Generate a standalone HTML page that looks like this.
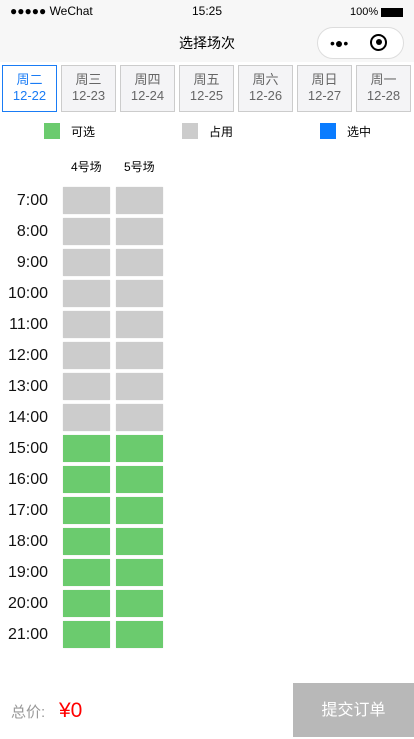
<!DOCTYPE html>
<html><head><meta charset="utf-8"><style>
*{margin:0;padding:0;box-sizing:border-box}
body{width:414px;height:737px;overflow:hidden;background:#fff;font-family:"Liberation Sans","Noto Sans CJK SC",sans-serif;position:relative;color:#000}
.abs{position:absolute}
.tab{position:absolute;top:65px;width:55px;height:47px;border:1px solid #ccc;background:#f4f4f6;text-align:center;color:#666;font-size:13px;line-height:16px;padding-top:6px}
.tab.sel{border-color:#1a7cf5;background:#fff;color:#1a7cf5}
.cell{position:absolute;width:47px;height:27px;box-shadow:0 0 1px #ddd}
.time{position:absolute;left:0;width:48px;text-align:right;font-size:16px;color:#111}
</style></head><body>
<div class="abs" style="left:0;top:0;width:414px;height:62px;background:#f7f7f7"></div>
<div class="abs" style="left:10px;top:4px;font-size:12px">●●●●● WeChat</div>
<div class="abs" style="left:192px;top:4px;font-size:12px">15:25</div>
<div class="abs" style="left:350px;top:6px;font-size:11px">100% <span style="display:inline-block;width:22px;height:9px;border:1px solid #000;background:#000;vertical-align:middle"></span></div>
<div class="abs" style="left:0;width:414px;top:33px;text-align:center;font-size:14px">选择场次</div>
<div class="abs" style="left:317px;top:27px;width:87px;height:32px;border:1px solid #ddd;border-radius:16px;background:#fff;font-size:14px;line-height:30px;padding-left:12px">•●• <span style="margin-left:18px;display:inline-block;width:17px;height:17px;border:2px solid #000;border-radius:50%;vertical-align:middle;position:relative;top:-2px"><span style="position:absolute;left:3.5px;top:3.5px;width:6px;height:6px;background:#000;border-radius:50%"></span></span></div>
<div id="tabs"></div>
<div class="abs" style="left:44px;top:123px;width:16px;height:16px;background:#6bcb6e"></div>
<div class="abs" style="left:71px;top:123px;font-size:12px">可选</div>
<div class="abs" style="left:182px;top:123px;width:16px;height:16px;background:#ccc"></div>
<div class="abs" style="left:209px;top:123px;font-size:12px">占用</div>
<div class="abs" style="left:320px;top:123px;width:16px;height:16px;background:#0a7cff"></div>
<div class="abs" style="left:347px;top:123px;font-size:12px">选中</div>
<div id="grid"></div>
<div class="abs" style="left:0;top:683px;width:414px;height:54px;background:#fff"></div>
<div class="abs" style="left:11px;top:701px;font-size:15px;color:#999">总价:</div>
<div class="abs" style="left:59px;top:699px;font-size:21px;color:#f00">¥0</div>
<div class="abs" style="left:293px;top:683px;width:121px;height:54px;background:#b8b8b8;color:#fff;font-size:16px;text-align:center;line-height:56px">提交订单</div>
<script>
const days=["周二","周三","周四","周五","周六","周日","周一"];
const dates=["12-22","12-23","12-24","12-25","12-26","12-27","12-28"];
const courts=["4号场","5号场"];
const times=["7:00","8:00","9:00","10:00","11:00","12:00","13:00","14:00","15:00","16:00","17:00","18:00","19:00","20:00","21:00"];
const status4=[0,0,0,0,0,0,0,0,1,1,1,1,1,1,1];
const status5=[0,0,0,0,0,0,0,0,1,1,1,1,1,1,1];
const tabs=document.getElementById('tabs');
days.forEach((d,i)=>{const t=document.createElement('div');t.className='tab'+(i==0?' sel':'');t.style.left=(2+i*59)+'px';


t.innerHTML=d+'<br>'+dates[i];tabs.appendChild(t);});
const g=document.getElementById('grid');
courts.forEach((c,j)=>{const h=document.createElement('div');h.className='abs';h.style.cssText='top:158px;font-size:12px;left:'+(71+j*53)+'px';


h.textContent=c;g.appendChild(h);});
const cols=[status4,status5];
times.forEach((tm,i)=>{const y=187+i*31;const l=document.createElement('div');l.className='time';l.style.top=(y+5)+'px';


l.textContent=tm;g.appendChild(l);
cols.forEach((s,j)=>{const c=document.createElement('div');c.className='cell';c.style.left=(63+j*53)+'px';c.style.top=y+'px';c.style.background=s[i]?'#6bcb6e':'#ccc';


g.appendChild(c);});});
</script>
</body></html>
